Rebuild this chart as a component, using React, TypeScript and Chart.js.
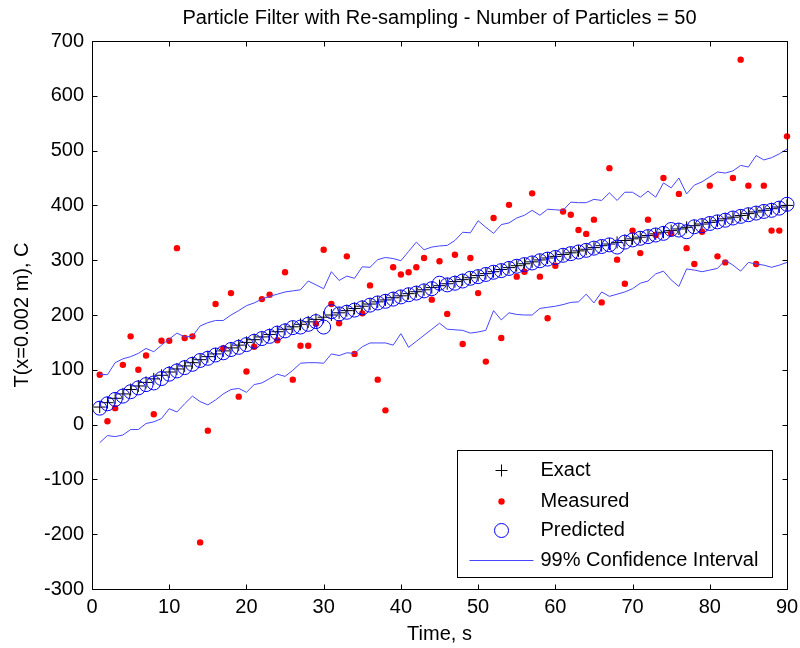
import React, { useEffect, useRef } from 'react';
import { Chart, registerables } from 'chart.js';

Chart.register(...registerables);

const titleText = 'Particle Filter with Re-sampling - Number of Particles = 50';
const xLabel = 'Time, s';
const yLabel = 'T(x=0.002 m), C';
const legendLabels = ['Exact', 'Measured', 'Predicted', '99% Confidence Interval'];

const xTicks = [0, 10, 20, 30, 40, 50, 60, 70, 80, 90];
const yTicks = [-300, -200, -100, 0, 100, 200, 300, 400, 500, 600, 700];

const time = [
  1, 2, 3, 4, 5, 6, 7, 8, 9, 10,
  11, 12, 13, 14, 15, 16, 17, 18, 19, 20,
  21, 22, 23, 24, 25, 26, 27, 28, 29, 30,
  31, 32, 33, 34, 35, 36, 37, 38, 39, 40,
  41, 42, 43, 44, 45, 46, 47, 48, 49, 50,
  51, 52, 53, 54, 55, 56, 57, 58, 59, 60,
  61, 62, 63, 64, 65, 66, 67, 68, 69, 70,
  71, 72, 73, 74, 75, 76, 77, 78, 79, 80,
  81, 82, 83, 84, 85, 86, 87, 88, 89, 90,
];

const exact = [
  32, 40, 48, 56, 64, 70.5, 77, 83.5, 90, 96,
  101.5, 107, 113, 118.5, 124, 129, 134.5, 140, 145, 150,
  155, 160, 164.5, 169.5, 174, 178.5, 183, 187.5, 192, 196,
  200, 204, 208, 212, 216, 220, 224, 227.5, 231.5, 235,
  239, 242.5, 246, 250, 253.5, 257, 261, 264.5, 268, 272,
  275.5, 279, 283, 286.5, 290, 293.5, 297, 300.5, 304, 307,
  310.5, 313.5, 317, 320, 323, 326.5, 329.5, 332.5, 336, 339,
  342, 345, 348, 351, 354, 357, 360, 363, 366, 369,
  372, 375.5, 378.5, 381.5, 385, 388, 391, 394, 397, 400,
];

const measured = [
  91, 6, 30, 109, 161, 100, 126, 19, 153, 153,
  322, 158, 161, -215, -11, 220, 139, 240, 51, 97,
  142, 229, 237, 154, 278, 82, 144, 144, 184, 319,
  220, 185, 307, 129, 203, 254, 82, 26, 287, 274,
  278, 287, 304, 228, 298, 202, 310, 147, 304, 240,
  115, 377, 158, 401, 270, 279, 422, 270, 194, 290,
  389, 383, 355, 348, 374, 223, 468, 301, 257, 354,
  313, 374, 346, 450, 349, 421, 322, 293, 352, 436,
  307, 296, 450, 666, 436, 293, 436, 354, 354, 526,
];

const predicted = [
  30, 38, 46, 52, 60, 67, 73, 76, 84, 92,
  98, 104, 110, 117, 121, 127, 131, 137, 141, 146,
  152, 157, 161, 167, 171, 177, 178, 183, 188, 178,
  206, 202, 205, 209, 213, 218, 222, 225, 229, 233,
  237, 240, 244, 248, 258, 255, 258, 262, 267, 270,
  274, 278, 281, 285, 289, 292, 295, 299, 302, 305,
  309, 312, 315, 318, 322, 325, 328, 324, 333, 337,
  340, 343, 346, 349, 356, 355, 352, 361, 363, 367,
  370, 373, 377, 380, 383, 386, 389, 391, 395, 402,
];

const upperCI = [
  92, 91, 113, 120, 124, 130, 139, 133, 145, 156,
  167, 160, 161, 180, 186, 190, 190, 200, 208, 217,
  222, 229, 234, 238, 242, 244, 246, 262, 255, 248,
  279, 263, 271, 267, 288, 287, 301, 305, 303, 299,
  316, 333, 319, 324, 326, 327, 336, 351, 350, 372,
  360, 349, 365, 368, 377, 382, 391, 382, 393, 392,
  391, 406, 405, 405, 411, 409, 423, 409, 424, 424,
  415, 426, 415, 441, 432, 450, 421, 437, 443, 452,
  461, 459, 463, 473, 470, 491, 483, 487, 494, 503,
];

const lowerCI = [
  -33, -20, -22, -19, -9, -9, 2, 5, 11, 29,
  23, 38, 52, 42, 36, 45, 56, 64, 66, 59,
  73, 76, 84, 92, 88, 99, 112, 113, 113, 112,
  129, 126, 131, 130, 142, 149, 149, 149, 145, 166,
  141, 152, 163, 174, 185, 174, 173, 172, 167, 169,
  172, 208, 191, 204, 201, 200, 200, 212, 214, 216,
  219, 223, 224, 238, 222, 242, 234, 238, 242, 248,
  258, 262, 275, 280, 264, 252, 284, 282, 279, 282,
  285, 300, 291, 280, 296, 293, 291, 287, 291, 296,
];

const FONT = "'Liberation Sans', Arial, Helvetica, sans-serif";
const FS = 20;
const CI_COLOR = 'rgb(70,70,255)';

const pts = (ys: number[]) => time.map((t, i) => ({ x: t, y: ys[i] }));

const framePlugin = {
  id: 'matlabFrame',
  afterDraw(chart: any) {
    const { ctx, chartArea: a, scales } = chart;
    const L = Math.round(a.left) + 0.5;
    const R = Math.round(a.right) + 0.5;
    const T = Math.round(a.top) + 0.5;
    const B = Math.round(a.bottom) + 0.5;
    ctx.save();
    ctx.strokeStyle = '#000';
    ctx.lineWidth = 1;
    ctx.beginPath();
    ctx.rect(L, T, R - L, B - T);
    const tl = 5;
    xTicks.forEach((v) => {
      const x = Math.round(scales.x.getPixelForValue(v)) + 0.5;
      ctx.moveTo(x, B); ctx.lineTo(x, B - tl);
      ctx.moveTo(x, T); ctx.lineTo(x, T + tl);
    });
    yTicks.forEach((v) => {
      const y = Math.round(scales.y.getPixelForValue(v)) + 0.5;
      ctx.moveTo(L, y); ctx.lineTo(L + tl, y);
      ctx.moveTo(R, y); ctx.lineTo(R - tl, y);
    });
    ctx.stroke();

    // legend box
    const bw = 315, bh = 127;
    const bx = Math.round(a.right - 15 - bw) + 0.5;
    const by = Math.round(a.bottom - 12 - bh) + 0.5;
    ctx.fillStyle = '#fff';
    ctx.fillRect(bx, by, bw, bh);
    ctx.strokeRect(bx, by, bw, bh);
    const mx = bx + 44;
    const tx = bx + 83;
    const rows = [by + 20, by + 51, by + 80, by + 110];
    ctx.beginPath();
    ctx.strokeStyle = '#000';
    ctx.moveTo(mx - 6, rows[0]); ctx.lineTo(mx + 6, rows[0]);
    ctx.moveTo(mx, rows[0] - 6); ctx.lineTo(mx, rows[0] + 6);
    ctx.stroke();
    ctx.beginPath();
    ctx.fillStyle = '#ff0000';
    ctx.arc(mx, rows[1], 3.2, 0, Math.PI * 2);
    ctx.fill();
    ctx.beginPath();
    ctx.strokeStyle = '#0000ff';
    ctx.arc(mx, rows[2], 7, 0, Math.PI * 2);
    ctx.stroke();
    ctx.beginPath();
    ctx.strokeStyle = CI_COLOR;
    ctx.moveTo(bx + 12, rows[3]); ctx.lineTo(bx + 76, rows[3]);
    ctx.stroke();
    ctx.fillStyle = '#000';
    ctx.font = `${FS}px ${FONT}`;
    ctx.textBaseline = 'middle';
    ctx.textAlign = 'left';
    legendLabels.forEach((lab, i) => ctx.fillText(lab, tx, rows[i]));
    ctx.restore();
  },
};

export default function App() {
  const ref = useRef<HTMLCanvasElement>(null);
  useEffect(() => {
    if (!ref.current) return;
    const chart = new Chart(ref.current, {
      type: 'scatter',
      data: {
        datasets: [
          {
            label: legendLabels[3] + ' upper',
            data: pts(upperCI),
            showLine: true,
            pointRadius: 0,
            borderColor: CI_COLOR,
            borderWidth: 1,
            order: 1,
          },
          {
            label: legendLabels[3] + ' lower',
            data: pts(lowerCI),
            showLine: true,
            pointRadius: 0,
            borderColor: CI_COLOR,
            borderWidth: 1,
            order: 1,
          },
          {
            label: legendLabels[2],
            data: pts(predicted),
            pointStyle: 'circle',
            pointRadius: 7,
            backgroundColor: 'rgba(0,0,0,0)',
            borderColor: '#0000ff',
            borderWidth: 1,
            order: 2,
            clip: false,
          },
          {
            label: legendLabels[1],
            data: pts(measured),
            pointStyle: 'circle',
            pointRadius: 3.2,
            backgroundColor: '#ff0000',
            borderColor: '#ff0000',
            borderWidth: 0,
            order: 3,
            clip: false,
          },
          {
            label: legendLabels[0],
            data: pts(exact),
            pointStyle: 'cross',
            pointRadius: 6,
            borderColor: '#000',
            borderWidth: 1,
            order: 4,
            clip: false,
          },
        ],
      } as any,
      options: {
        animation: false,
        responsive: false,
        devicePixelRatio: 1,
        events: [],
        layout: { padding: { right: 13, left: 0, top: 0, bottom: 0 } },
        plugins: {
          legend: { display: false },
          tooltip: { enabled: false },
          title: {
            display: true,
            text: titleText,
            fullSize: false,
            color: '#000',
            font: { family: FONT, size: FS, weight: 'normal' },
            padding: { top: 6, bottom: 11 },
          },
        },
        scales: {
          x: {
            type: 'linear',
            min: 0,
            max: 90,
            grid: { display: false, drawTicks: false },
            border: { display: false },
            ticks: {
              stepSize: 10,
              color: '#000',
              padding: 6,
              font: { family: FONT, size: FS },
              maxRotation: 0,
            },
            title: {
              display: true,
              text: xLabel,
              color: '#000',
              font: { family: FONT, size: FS },
              padding: { top: 0, bottom: 2 },
            },
            afterFit: (s: any) => { s.height = 59; s.paddingLeft = 0; s.paddingRight = 0; },
          },
          y: {
            type: 'linear',
            min: -300,
            max: 700,
            grid: { display: false, drawTicks: false },
            border: { display: false },
            ticks: {
              stepSize: 100,
              color: '#000',
              padding: 8,
              font: { family: FONT, size: FS },
            },
            title: {
              display: true,
              text: yLabel,
              color: '#000',
              font: { family: FONT, size: FS },
              padding: { top: 10, bottom: 0 },
            },
            afterFit: (s: any) => { s.width = 92; s.paddingTop = 0; s.paddingBottom = 0; },
          },
        },
      },
      plugins: [framePlugin],
    });
    return () => chart.destroy();
  }, []);

  return (
    <div style={{ position: 'fixed', left: 0, top: 0, width: 800, height: 648, background: '#fff' }}>
      <canvas ref={ref} width={800} height={648} style={{ display: 'block' }} />
    </div>
  );
}
